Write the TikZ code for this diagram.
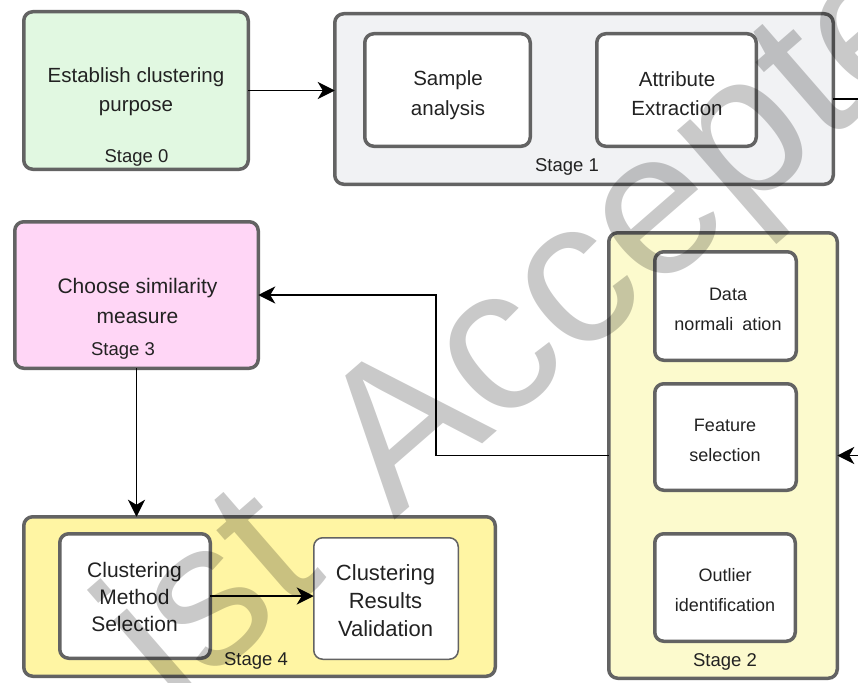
\documentclass[tikz,border=0pt]{standalone}
\usepackage{fontspec}
\setmainfont{Liberation Sans}
\usetikzlibrary{arrows.meta}
\definecolor{bordergray}{HTML}{636363}
\definecolor{txt}{HTML}{222222}
\definecolor{fillA}{HTML}{E1F8E1}
\definecolor{fillB}{HTML}{F1F2F4}
\definecolor{fillC}{HTML}{FCFACD}
\definecolor{fillD}{HTML}{FFD6F6}
\definecolor{fillE}{HTML}{FFF5A3}
\tikzset{
  box/.style={draw=bordergray, line width=3.5pt, rounded corners=9pt, inner sep=0pt, outer sep=0pt},
  innerbox/.style={box, fill=white},
  conn/.style={line width=1.7pt, draw=black, -{Stealth[length=17pt,width=17pt,inset=5pt]}},
  lbl/.style={text=txt, align=center, inner sep=0pt, font=\fontsize{20.5}{29}\selectfont},
  smalllbl/.style={text=txt, align=center, inner sep=0pt, font=\fontsize{18}{30}\selectfont},
  stagelbl/.style={text=txt, inner sep=0pt, font=\fontsize{18.5}{20}\selectfont},
}
\begin{document}
\begin{tikzpicture}[x=1pt, y=-1pt]
\useasboundingbox (0,0) rectangle (858,682);
\fill[white] (0,0) rectangle (858,682);

% Stage 0
\node[box, fill=fillA, minimum width=224.5pt, minimum height=157.5pt] (s0) at (136,90.5) {};
\node[lbl] (t0) at (136,91.5) {Establish clustering\\purpose};
\node[stagelbl] (l0) at (136.5,158) {Stage 0};

% Stage 1
\node[box, fill=fillB, minimum width=498.5pt, minimum height=170.5pt] (s1) at (584,99) {};
\node[innerbox, minimum width=165.5pt, minimum height=112.5pt] (sa) at (447.5,90) {};
\node[innerbox, minimum width=159.5pt, minimum height=112.5pt] (ae) at (676.5,90) {};
\node[lbl, font=\fontsize{20.5}{30}\selectfont] (tsa) at (448,95) {Sample\\analysis};
\node[lbl] (tae) at (677,93.5) {Attribute\\Extraction};
\node[stagelbl] (l1) at (567,167) {Stage 1};

% Stage 2
\node[box, fill=fillC, minimum width=228.5pt, minimum height=445.5pt] (s2) at (723,455.5) {};
\node[innerbox, minimum width=141.5pt, minimum height=108.5pt] (dn) at (725.5,306) {};
\node[innerbox, minimum width=141.5pt, minimum height=106.5pt] (fs) at (725.5,437) {};
\node[innerbox, minimum width=140.5pt, minimum height=107.5pt] (oi) at (725,587.5) {};
\node[smalllbl] (tdn) at (728,309) {Data\\normali\phantom{z}ation};
\node[smalllbl] (tfs) at (725,440) {Feature\\selection};
\node[smalllbl] (toi) at (725,590.5) {Outlier\\identification};
\node[stagelbl] (l2) at (725,662) {Stage 2};

% Stage 3
\node[box, fill=fillD, minimum width=243.5pt, minimum height=146.5pt] (s3) at (136.5,295) {};
\node[lbl, font=\fontsize{21}{30}\selectfont] (t3) at (137.5,300.5) {Choose similarity\\measure};
\node[stagelbl] (l3) at (123,351) {Stage 3};

% Stage 4
\node[box, fill=fillE, minimum width=471.5pt, minimum height=159.5pt] (s4) at (259.5,596.5) {};
\node[innerbox, minimum width=150.5pt, minimum height=124.5pt] (cm) at (135,596) {};
\node[draw=bordergray, fill=white, line width=1.5pt, rounded corners=9pt, inner sep=0pt, outer sep=0pt, minimum width=144.5pt, minimum height=121.5pt] (cr) at (386,598.5) {};
\node[lbl, font=\fontsize{21}{27}\selectfont] (tcm) at (134.5,596.5) {Clustering\\Method\\Selection};
\node[lbl, font=\fontsize{22}{28}\selectfont] (tcr) at (385.5,601) {Clustering\\Results\\Validation};
\node[stagelbl] (l4) at (256,661) {Stage 4};

% connectors
\draw[conn] (s0.east) -- (s0.east -| s1.west);
\draw[conn] (s1.east) -- ++(35,0) |- (s2.east);
\draw[conn] (s2.west) -- ++(-173,0) |- (s3.east);
\draw[conn] (s3.south) -- (s3.south |- s4.north);
\draw[conn] (cm.east) -- (cm.east -| cr.west);

% watermark
\begin{scope}
\clip (0,0) rectangle (858,682);
\node[rotate=41, anchor=base west, inner sep=0pt, text=black, opacity=0.21, font=\fontsize{205}{205}\selectfont] (wm) at (174,712) {ist\hspace{30pt} Accepted};
\end{scope}
\end{tikzpicture}
\end{document}
